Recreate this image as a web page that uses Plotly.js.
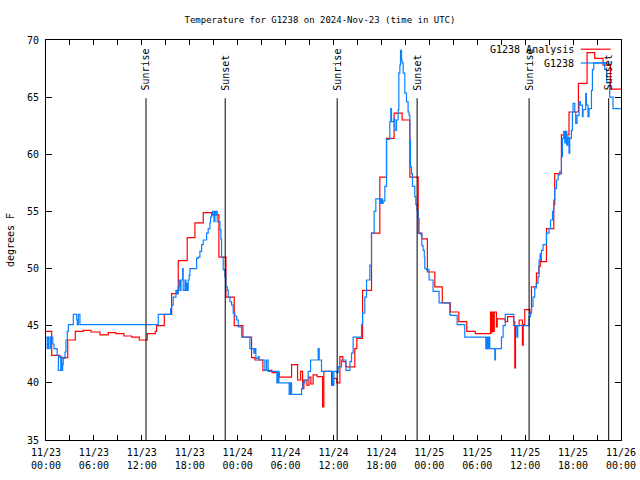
<!DOCTYPE html>
<html>
<head>
<meta charset="utf-8">
<script src="https://cdn.plot.ly/plotly-3.0.1.min.js"></script>
<style>html,body{margin:0;padding:0;background:#fff;}#chart{width:640px;height:480px;}</style>
</head>
<body>
<div id="chart"></div>
<script>
// Hours after 2024-11-23 00:00 UTC
const analysisHours = [0, 0.71, 1.75, 2.72, 3.67, 4.67, 5.63, 6.76, 7.80, 8.76,
  9.76, 10.73, 11.68, 12.68, 13.68, 13.85, 14.81, 15.73, 16.56, 17.68,
  18.65, 19.69, 20.74, 21.65, 22.53, 23.57, 24.66, 25.74, 26.16, 27.16,
  28.29, 29.2, 30.75, 31.5, 31.88, 32.13, 32.29, 32.67, 32.92, 33.17,
  33.45, 33.95, 34.63, 34.79, 35.76, 35.96, 36.42, 36.8, 37.17, 37.55,
  38.67, 38.92, 39.64, 40.76, 41.8, 42.64, 43.59, 44.59, 45.56, 46.6,
  47.06, 47.75, 48.69, 49.62, 50.63, 51.69, 52.69, 53.75, 55.66, 55.76,
  55.86, 56.0, 56.13, 56.4, 56.5, 57.5, 57.8, 58.57, 58.7, 58.79,
  59.24, 59.66, 59.76, 59.95, 60.58, 60.79, 61.41, 61.7, 61.89, 62.01,
  62.67, 63.58, 63.7, 64.54, 65.49, 66.67, 67.75, 68.71, 69.75, 70.67,
  72.1];
const analysisTemps = [44.5, 42.4, 42.2, 43.75, 44.5, 44.6, 44.45, 44.2, 44.4, 44.3,
  44.1, 44.0, 43.75, 44.3, 44.5, 45.0, 46.0, 47.8, 50.7, 52.7,
  54.0, 54.9, 54.7, 51.0, 47.5, 45.0, 44.0, 42.2, 42.0, 41.1,
  40.9, 40.5, 41.6, 40.25, 41.0, 39.5, 40.25, 39.8, 40.5, 39.9,
  40.7, 40.55, 37.9, 41.0, 39.8, 40.4, 40.0, 42.3, 41.85, 41.4,
  43.0, 43.9, 48.1, 53.1, 58.0, 61.4, 63.6, 63.0, 58.0, 53.1,
  52.6, 49.7, 48.4, 47.0, 46.2, 45.35, 44.5, 44.3, 46.2, 44.4,
  46.2, 44.5, 46.2, 44.9, 45.6, 45.35, 45.8, 45.35, 41.3, 45.0,
  45.5, 43.3, 45.1, 46.4, 46.1, 48.4, 49.6, 50.2, 51.2, 50.6,
  53.5, 55.6, 58.3, 61.7, 63.7, 66.2, 68.9, 68.4, 67.8, 65.7,
  65.7];

const obsHours = [0, 0.15, 0.3, 0.5, 0.65, 0.85, 1.0, 1.4, 1.55, 1.85,
  1.97, 2.08, 2.16, 2.38, 2.5, 2.67, 2.8, 3.42, 3.84, 3.92,
  4.05, 4.25, 14.06, 15.6, 15.73, 15.93, 16.27, 16.43, 16.56, 16.68,
  16.77, 16.9, 17.11, 17.18, 17.4, 17.52, 17.61, 17.68, 17.81, 17.93,
  18.02, 18.86, 19.06, 19.27, 19.49, 19.69, 20.11, 20.31, 20.53, 20.61,
  20.74, 20.86, 21.03, 21.15, 21.28, 21.36, 21.44, 21.78, 21.9, 21.99,
  22.19, 22.4, 22.53, 22.69, 22.82, 23.03, 23.24, 23.44, 23.65, 23.87,
  24.07, 24.49, 25.53, 26.03, 26.16, 26.28, 26.57, 26.7, 27.41, 27.62,
  27.82, 28.91, 29.04, 29.16, 30.45, 30.6, 30.75, 32.0, 32.17, 32.42,
  32.83, 33.13, 34.08, 34.21, 34.5, 35.88, 36.05, 36.42, 36.58, 37.0,
  37.55, 38.05, 38.26, 38.46, 39.51, 39.64, 39.92, 40.14, 40.55, 40.76,
  41.09, 41.3, 41.89, 41.99, 42.14, 42.22, 42.43, 42.64, 43.05, 43.17,
  43.26, 43.55, 43.68, 43.89, 44.09, 44.18, 44.31, 44.39, 44.52, 44.59,
  44.72, 44.93, 45.14, 45.34, 45.47, 45.56, 45.64, 45.77, 45.89, 46.18,
  46.31, 46.47, 46.6, 46.72, 46.9, 47.06, 47.22, 47.37, 47.43, 47.65,
  47.97, 48.47, 49.22, 50.56, 50.65, 51.48, 52.44, 55.07, 55.19, 55.32,
  55.44, 55.57, 56.2, 56.28, 57.03, 57.24, 57.51, 58.57, 58.95, 59.07,
  60.49, 60.67, 60.79, 60.99, 61.2, 61.41, 61.61, 61.74, 61.91, 62.04,
  62.24, 62.67, 62.99, 63.17, 63.42, 63.58, 63.7, 63.92, 64.12, 64.33,
  64.54, 64.67, 64.83, 64.96, 65.08, 65.21, 65.33, 65.49, 65.58, 65.79,
  65.92, 66.0, 66.21, 66.33, 66.5, 66.75, 66.92, 67.17, 67.25, 67.58,
  67.67, 67.87, 68.0, 68.3, 68.42, 68.59, 69.96, 70.21, 70.59, 71.0,
  72.1];
const obsTemps = [44.0, 43.0, 44.0, 43.0, 44.0, 43.4, 43.0, 42.4, 41.1, 42.3,
  41.1, 41.6, 42.15, 42.7, 43.75, 44.5, 45.1, 46.0, 45.5, 45.1,
  46.0, 45.1, 46.0, 46.5, 46.8, 47.5, 48.1, 47.8, 48.4, 49.0,
  48.1, 49.0, 50.0, 48.1, 49.0, 48.1, 48.7, 48.1, 49.0, 49.4,
  50.0, 50.9, 51.0, 51.5, 52.1, 52.5, 53.1, 53.5, 54.0, 54.5,
  54.7, 55.0, 54.1, 55.0, 54.7, 55.0, 54.1, 53.4, 52.6, 51.0,
  49.9, 49.3, 48.4, 48.1, 47.5, 47.1, 46.8, 46.1, 45.85, 45.5,
  44.9, 44.0, 43.0, 42.6, 43.0, 42.15, 42.3, 42.0, 41.1, 42.0,
  41.0, 40.0, 41.0, 40.0, 39.0, 40.0, 39.0, 39.5, 40.0, 40.25,
  41.0, 42.0, 43.0, 42.0, 41.0, 39.8, 41.0, 40.9, 41.4, 42.0,
  41.1, 41.85, 42.6, 44.0, 45.1, 46.1, 47.5, 49.0, 50.3, 53.1,
  55.0, 56.1, 55.7, 56.1, 55.7, 55.9, 57.2, 61.3, 62.85, 64.0,
  62.85, 63.1, 62.1, 63.0, 63.9, 67.1, 67.8, 69.1, 68.25, 68.0,
  67.1, 65.35, 64.6, 63.7, 63.4, 61.25, 58.9, 58.3, 57.2, 56.3,
  55.6, 55.1, 54.4, 53.1, 53.0, 52.0, 51.6, 51.0, 50.0, 49.9,
  49.0, 48.0, 47.0, 46.0, 45.9, 45.1, 44.0, 43.0, 44.0, 43.0,
  44.0, 43.0, 42.0, 43.0, 44.0, 45.0, 46.0, 45.0, 44.0, 45.0,
  45.8, 46.1, 46.7, 47.5, 48.3, 48.7, 49.3, 50.75, 51.3, 51.6,
  52.1, 53.1, 53.5, 54.25, 55.0, 56.0, 57.0, 57.75, 58.2, 58.5,
  59.8, 61.4, 62.0, 61.0, 62.0, 60.8, 61.5, 60.1, 61.4, 62.1,
  63.7, 64.45, 63.7, 62.7, 63.4, 64.6, 64.3, 63.3, 63.9, 65.3,
  64.3, 63.3, 64.0, 65.6, 67.4, 68.0, 67.4, 66.3, 65.0, 64.0,
  64.0];

const sunriseHours = [12.52, 36.46, 60.49];
const sunsetHours = [22.44, 46.47, 70.46];
const seriesNames = ["G1238 Analysis", "G1238"];
const seriesColors = ["#ff0000", "#0a80ff"];

function toDate(h) {
  const ms = Date.UTC(2024, 10, 23) + Math.round(h * 3600000);
  return new Date(ms).toISOString().replace('T', ' ').slice(0, 19);
}

const FONT = {family: "DejaVu Sans Mono, monospace", size: 10, color: "#000"};
const TITLEFONT = {family: "DejaVu Sans Mono, monospace", size: 9, color: "#000"};

const traces = [
  {x: analysisHours.map(toDate), y: analysisTemps, type: 'scatter', mode: 'lines',
   line: {shape: 'hv', color: seriesColors[0], width: 1.2}, name: seriesNames[0]},
  {x: obsHours.map(toDate), y: obsTemps, type: 'scatter', mode: 'lines',
   line: {shape: 'hv', color: seriesColors[1], width: 1.2}, name: seriesNames[1]}
];

const shapes = [];
const annotations = [];
function addMarker(h, label) {
  shapes.push({type: 'line', xref: 'x', yref: 'y', x0: toDate(h), x1: toDate(h), y0: 35, y1: 64.9,
    line: {color: '#000', width: 1}});
  annotations.push({xref: 'x', yref: 'y', x: toDate(h), y: 65.4, text: label, showarrow: false,
    textangle: -90, xanchor: 'center', yanchor: 'bottom', font: FONT});
}
sunriseHours.forEach(h => addMarker(h, 'Sunrise'));
sunsetHours.forEach(h => addMarker(h, 'Sunset'));

// legend (gnuplot style: text right-aligned, sample to the right)
[0, 1].forEach(i => {
  const py = i === 0 ? 0.977 : 0.9425;
  annotations.push({xref: 'paper', yref: 'paper', x: 0.921, y: py, text: seriesNames[i], showarrow: false,
    xanchor: 'right', yanchor: 'middle', font: FONT});
  shapes.push({type: 'line', xref: 'paper', yref: 'paper', x0: 0.930, x1: 0.982, y0: py, y1: py,
    line: {color: seriesColors[i], width: 1.2}});
});

const layout = {
  width: 640, height: 480,
  margin: {l: 46, r: 19, t: 40, b: 40, pad: 0},
  paper_bgcolor: '#fff', plot_bgcolor: '#fff',
  font: FONT,
  showlegend: false,
  title: {text: 'Temperature for G1238 on 2024-Nov-23 (time in UTC)', x: 0.5, xanchor: 'center',
    y: 1 - 20 / 480, yref: 'container', yanchor: 'middle', font: TITLEFONT},
  xaxis: {
    type: 'date', range: [toDate(0), toDate(72)],
    tick0: toDate(0), dtick: 6 * 3600000, tickformat: '%m/%d<br>%H:%M',
    ticks: 'inside', ticklen: 5, tickcolor: '#000', mirror: 'ticks', ticklabelstandoff: 3,
    minor: {dtick: 3 * 3600000, ticks: 'inside', ticklen: 5, tickcolor: '#000', showgrid: false},
    showline: true, linecolor: '#000', linewidth: 1, showgrid: false, zeroline: false,
    tickfont: FONT, automargin: false
  },
  yaxis: {
    range: [35, 70], dtick: 5, tick0: 35,
    ticks: 'inside', ticklen: 6, tickcolor: '#000', mirror: 'ticks', ticklabelstandoff: 4,
    showline: true, linecolor: '#000', linewidth: 1, showgrid: false, zeroline: false,
    tickfont: FONT, automargin: false,
    title: {text: 'degrees F', font: FONT, standoff: 10}
  },
  shapes: shapes,
  annotations: annotations
};

Plotly.newPlot('chart', traces, layout, {staticPlot: true, displayModeBar: false});
</script>
</body>
</html>
